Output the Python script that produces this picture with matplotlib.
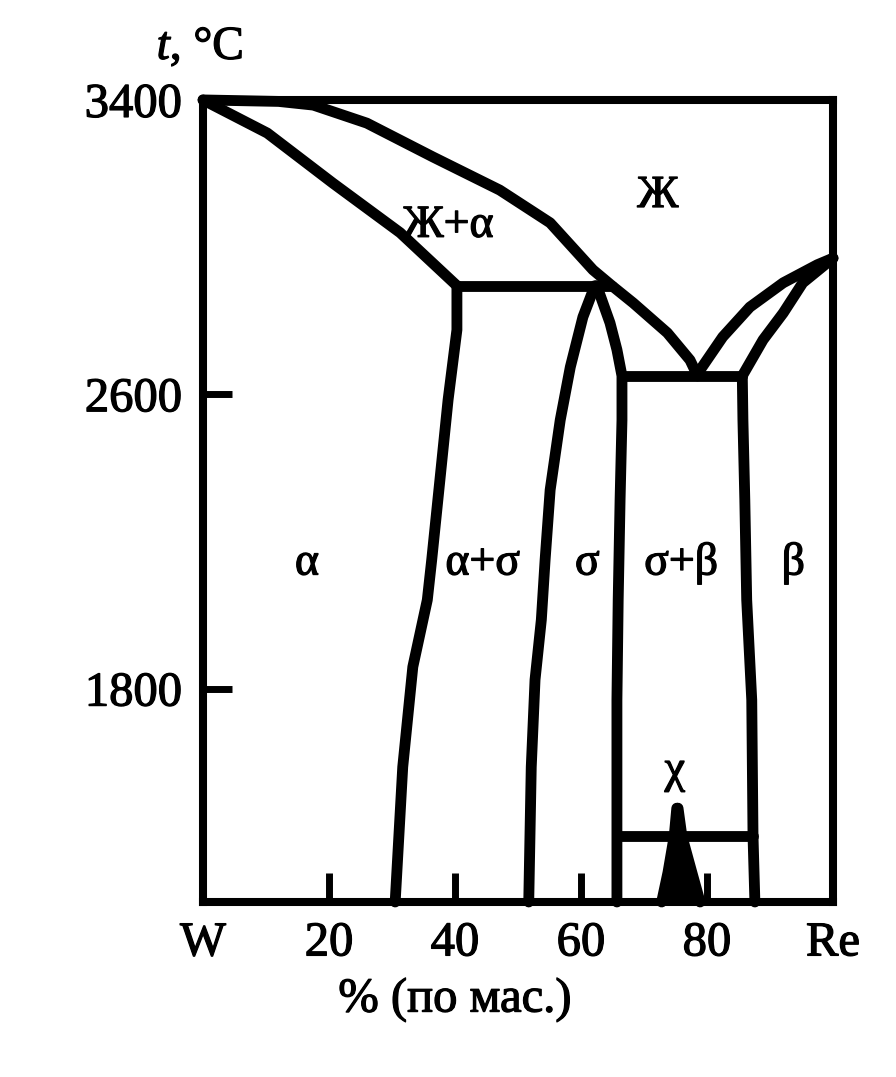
import matplotlib

matplotlib.use("Agg")
import matplotlib.pyplot as plt
import matplotlib.patheffects as pe

plt.rcParams["font.family"] = ["Liberation Serif", "DejaVu Serif"]
plt.rcParams["mathtext.fontset"] = "custom"
plt.rcParams["mathtext.it"] = "Liberation Serif:italic"
plt.rcParams["mathtext.rm"] = "Liberation Serif"

# composition in % Re (by mass), temperature in °C
liquidus_left_x = [0, 12.0, 17.5, 26.0, 36.5, 47.1, 55.1, 61.9, 64.9, 68.3, 73.7, 77.3, 78.5]
liquidus_left_t = [3400, 3396, 3386, 3337, 3245, 3155, 3066, 2938, 2895, 2848, 2767, 2693, 2650]

solidus_alpha_x = [0, 10.2, 20.6, 31.3, 40.3]
solidus_alpha_t = [3400, 3310, 3174, 3039, 2895]

peritectic_x = [40.3, 64.9]
peritectic_t = [2895, 2895]

solvus_alpha_x = [40.3, 40.3, 38.9, 37.6, 36.3, 35.6, 33.3, 31.7, 30.5]
solvus_alpha_t = [2895, 2775, 2585, 2367, 2150, 2041, 1859, 1587, 1220]

sigma_left_x = [62.2, 60.3, 58.3, 56.7, 55.1, 54.3, 53.7, 52.7, 52.1, 51.7]
sigma_left_t = [2895, 2810, 2674, 2530, 2340, 2150, 1987, 1824, 1587, 1220]

sigma_right_x = [62.5, 64.6, 65.7, 66.5, 66.5, 66.2, 65.9, 65.7, 65.7]
sigma_right_t = [2895, 2794, 2721, 2650, 2530, 2313, 2041, 1769, 1220]

eutectic_x = [66.5, 85.6]
eutectic_t = [2650, 2650]

liquidus_right_x = [78.5, 78.9, 82.5, 86.8, 92.1, 97.5, 100]
liquidus_right_t = [2650, 2666, 2756, 2837, 2903, 2952, 2970]

solidus_beta_x = [85.6, 88.9, 92.1, 95.2, 100]
solidus_beta_t = [2650, 2748, 2821, 2903, 2970]

solvus_beta_x = [85.6, 85.7, 86.0, 86.3, 87.1, 87.3, 87.6]
solvus_beta_t = [2650, 2530, 2313, 2041, 1769, 1400, 1220]

chi_line_x = [65.7, 87.3]
chi_line_t = [1400, 1400]

chi_left_x = [75.2, 74.8, 73.8, 72.8]
chi_left_t = [1475, 1400, 1300, 1220]
chi_right_x = [75.4, 76.0, 77.6, 78.9]
chi_right_t = [1475, 1400, 1300, 1220]

region_labels = ["Ж", "Ж+α", "α", "α+σ", "σ", "σ+β", "β", "χ"]
region_x = [72.2, 38.9, 16.5, 44.4, 61.0, 75.9, 93.7, 74.9]
region_t = [3109, 3028, 2110, 2110, 2110, 2110, 2110, 1546]

x_ticks = [0, 20, 40, 60, 80, 100]
x_tick_labels = ["W", "20", "40", "60", "80", "Re"]
y_ticks = [1800, 2600, 3400]

ink = [pe.withStroke(linewidth=0.9, foreground="black")]

fig = plt.figure(figsize=(8.96, 10.77), dpi=100)
ax = fig.add_axes([0.2266, 0.1625, 0.7031, 0.7447])

curves = [
    (liquidus_left_x, liquidus_left_t),
    (solidus_alpha_x, solidus_alpha_t),
    (peritectic_x, peritectic_t),
    (solvus_alpha_x, solvus_alpha_t),
    (sigma_left_x, sigma_left_t),
    (sigma_right_x, sigma_right_t),
    (eutectic_x, eutectic_t),
    (liquidus_right_x, liquidus_right_t),
    (solidus_beta_x, solidus_beta_t),
    (solvus_beta_x, solvus_beta_t),
    (chi_line_x, chi_line_t),
    (chi_left_x, chi_left_t),
    (chi_right_x, chi_right_t),
]
for cx, ct in curves:
    ax.plot(
        cx, ct, color="black", lw=7.8, solid_capstyle="round",
        solid_joinstyle="round", clip_on=False,
    )

# the narrow chi field is printed solid
ax.fill(
    chi_left_x + chi_right_x[::-1], chi_left_t + chi_right_t[::-1],
    color="black", lw=0,
)

for label, lx, lt in zip(region_labels, region_x, region_t):
    ax.text(lx, lt, label, fontsize=33, ha="center", va="baseline", path_effects=ink)

ax.set_xlim(0, 100)
ax.set_ylim(1220, 3400)
ax.set_xticks(x_ticks)
ax.set_xticklabels(x_tick_labels)
ax.set_yticks(y_ticks)
ax.tick_params(direction="in", length=21, width=5, labelsize=35)
ax.tick_params(axis="x", pad=14)
ax.tick_params(axis="y", pad=15)
for tl in ax.get_xticklabels() + ax.get_yticklabels():
    tl.set_path_effects(ink)
for spine in ax.spines.values():
    spine.set_linewidth(5.8)

ax.set_xlabel("% (по мас.)", fontsize=35, path_effects=ink)
ax.xaxis.set_label_coords(0.40, -0.122)
ax.xaxis.label.set_va("center")

ax.set_ylabel(r"$t$, °C", fontsize=34, rotation=0, path_effects=ink)
ax.yaxis.set_label_coords(-0.005, 1.065)
ax.yaxis.label.set_va("center")
ax.yaxis.label.set_ha("center")

plt.savefig("out.png", dpi=100)
plt.close()
